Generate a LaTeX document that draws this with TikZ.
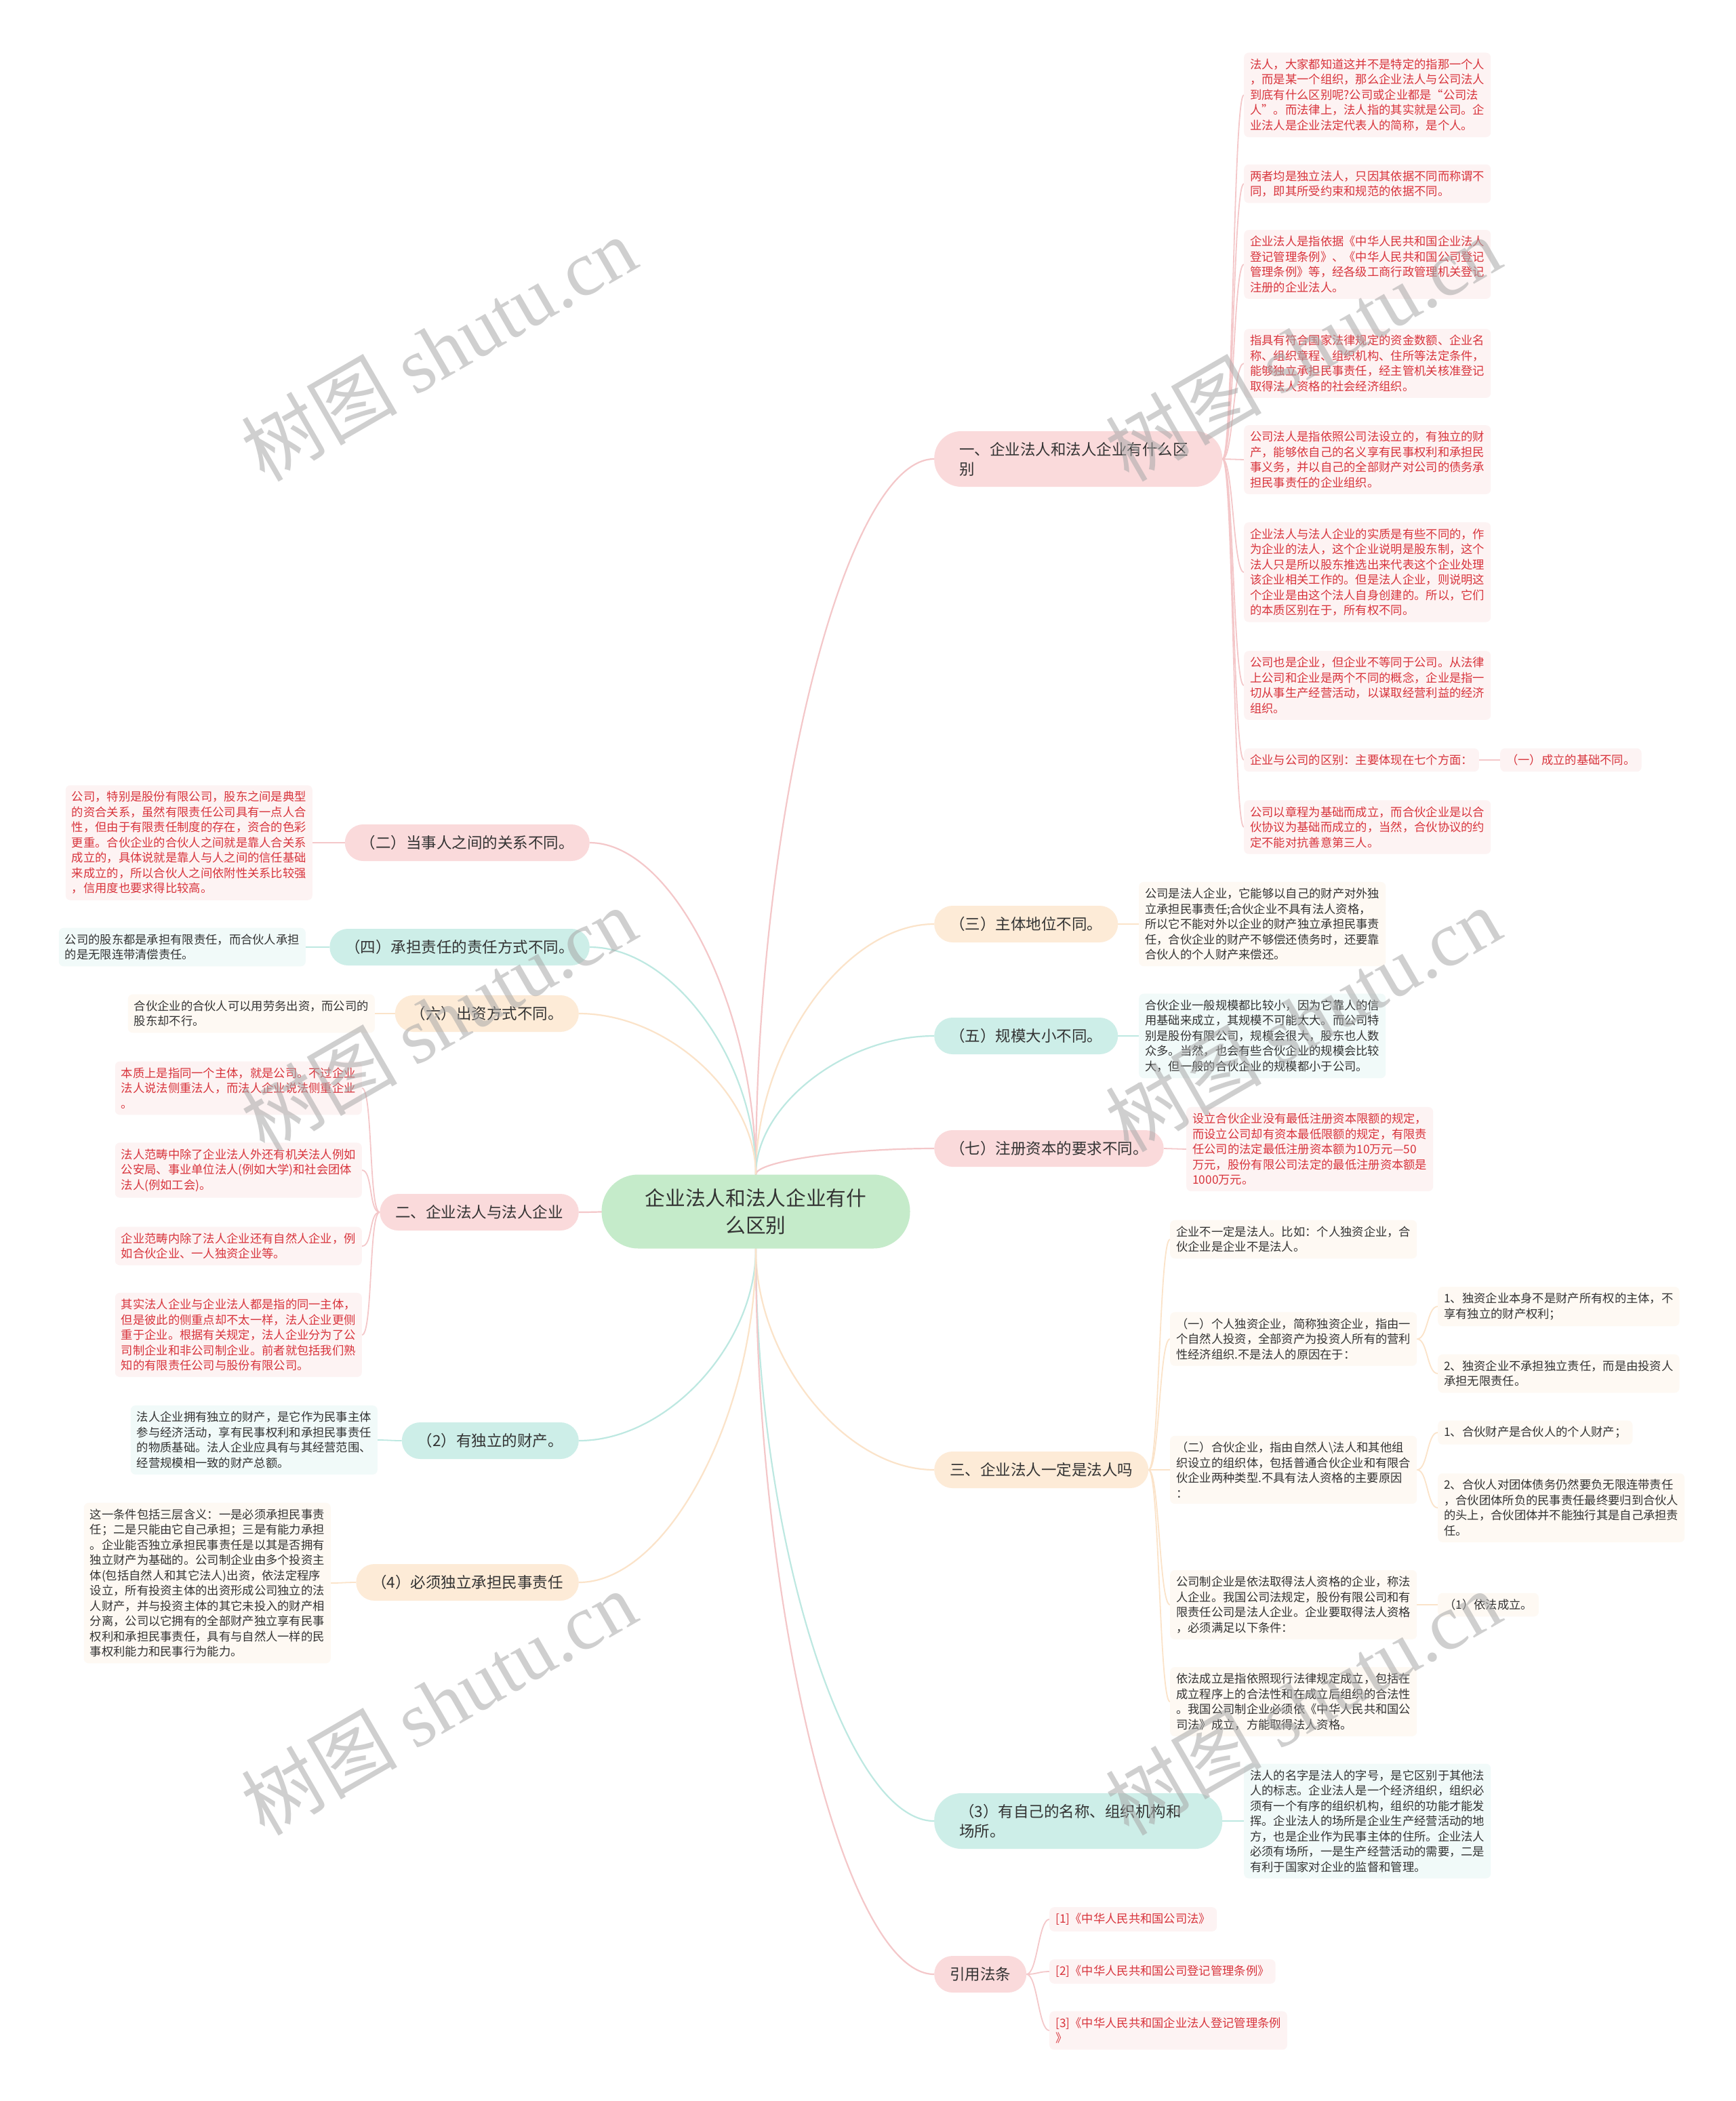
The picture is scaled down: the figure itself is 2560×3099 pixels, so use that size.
\documentclass[tikz,border=0pt]{standalone}
\usepackage{fontspec}
\setmainfont{Noto Sans CJK SC}
\newfontfamily\wmserif{Liberation Serif}
\usetikzlibrary{calc}
\pgfdeclarelayer{bg}
\pgfsetlayers{bg,main}
\definecolor{pinkB}{HTML}{FADADB}
\definecolor{pinkL}{HTML}{FDF3F3}
\definecolor{pinkC}{HTML}{F4C7C9}
\definecolor{tealB}{HTML}{CDEEE8}
\definecolor{tealL}{HTML}{F1FAF9}
\definecolor{tealC}{HTML}{BDE8E1}
\definecolor{peachB}{HTML}{FDEBD7}
\definecolor{peachL}{HTML}{FEF9F3}
\definecolor{peachC}{HTML}{FBE3C9}
\definecolor{rootG}{HTML}{C5EBCA}
\definecolor{redT}{HTML}{D8343C}
\definecolor{darkT}{HTML}{333333}
\definecolor{wmG}{HTML}{A8A8A8}
\tikzset{
  rootnode/.style={fill=rootG, rounded corners=54pt, minimum width=455pt, minimum height=109pt, align=center, font=\fontsize{29.7}{40}\selectfont, text=darkT, inner sep=0pt},
  brnode/.style={rounded corners=27pt, inner xsep=23pt, inner ysep=0pt, minimum height=54pt, font=\fontsize{22.5}{29}\selectfont, text=darkT},
  brtwo/.style={rounded corners=40pt, inner xsep=37pt, inner ysep=0pt, minimum height=82pt, text width=351pt, align=left, font=\fontsize{22.5}{29}\selectfont, text=darkT},
  pinkbr/.style={brnode, fill=pinkB},
  tealbr/.style={brnode, fill=tealB},
  peachbr/.style={brnode, fill=peachB},
  leafnode/.style={rounded corners=7pt, inner xsep=9pt, inner ysep=9pt, align=left, font=\fontsize{17.3}{22.5}\selectfont},
  pinkleaf/.style={leafnode, fill=pinkL, text=redT},
  tealleaf/.style={leafnode, fill=tealL, text=darkT},
  peachleaf/.style={leafnode, fill=peachL, text=darkT},
  pinkln/.style={draw=pinkC, line width=1.8pt},
  tealln/.style={draw=tealC, line width=1.8pt},
  peachln/.style={draw=peachC, line width=1.8pt},
  pinkrl/.style={draw=pinkC, line width=2.2pt},
  tealrl/.style={draw=tealC, line width=2.2pt},
  peachrl/.style={draw=peachC, line width=2.2pt},
  wmark/.style={rotate=30, text=wmG, text opacity=0.55, font=\fontsize{115}{120}\selectfont}
}
\newcommand{\cR}[3]{\draw[#1] (#2.east) .. controls ($(#2.east)+(16,0)$) and ($(#3.west)+(-16,0)$) .. (#3.west);}
\newcommand{\cL}[3]{\draw[#1] (#2.west) .. controls ($(#2.west)+(-16,0)$) and ($(#3.east)+(16,0)$) .. (#3.east);}
\newcommand{\cRoot}[3]{\path ($(#2)!0.5!(#3)$) coordinate (cm); \draw[#1] (#2) .. controls (#2 |- cm) and (cm |- #3) .. (#3);}
\begin{document}
\begin{tikzpicture}[x=1pt,y=-1pt]
\useasboundingbox (0,0) rectangle (2560,3099);
% root
\node[rootnode] (root) at (1115,1787) {企业法人和法人企业有什\\么区别};
% right branches
\node[brtwo, fill=pinkB, anchor=west] (b1) at (1378,677) {一、企业法人和法人企业有什么区\\别};
\node[peachbr, anchor=west] (b2) at (1378,1363) {（三）主体地位不同。};
\node[tealbr, anchor=west] (b3) at (1378,1528) {（五）规模大小不同。};
\node[pinkbr, anchor=west] (b4) at (1378,1694) {（七）注册资本的要求不同。};
\node[peachbr, anchor=west] (b5) at (1378,2168) {三、企业法人一定是法人吗};
\node[brtwo, fill=tealB, anchor=west] (b6) at (1378,2686) {（3）有自己的名称、组织机构和\\场所。};
\node[pinkbr, anchor=west] (b7) at (1378,2912) {引用法条};
% left branches
\node[pinkbr, anchor=east] (b8) at (870,1243) {（二）当事人之间的关系不同。};
\node[tealbr, anchor=east] (b9) at (870,1397) {（四）承担责任的责任方式不同。};
\node[peachbr, anchor=east] (b10) at (854,1495) {（六）出资方式不同。};
\node[pinkbr, anchor=east] (b11) at (854,1788) {二、企业法人与法人企业};
\node[tealbr, anchor=east] (b12) at (854,2125) {（2）有独立的财产。};
\node[peachbr, anchor=east] (b13) at (854,2334) {（4）必须独立承担民事责任};
% leaves of b1
\node[pinkleaf, anchor=west] (l1) at (1835,140) {法人，大家都知道这并不是特定的指那一个人\\，而是某一个组织，那么企业法人与公司法人\\到底有什么区别呢?公司或企业都是“公司法\\人”。而法律上，法人指的其实就是公司。企\\业法人是企业法定代表人的简称，是个人。};
\node[pinkleaf, anchor=west] (l2) at (1835,271) {两者均是独立法人，只因其依据不同而称谓不\\同，即其所受约束和规范的依据不同。};
\node[pinkleaf, anchor=west] (l3) at (1835,390) {企业法人是指依据《中华人民共和国企业法人\\登记管理条例》、《中华人民共和国公司登记\\管理条例》等，经各级工商行政管理机关登记\\注册的企业法人。};
\node[pinkleaf, anchor=west] (l4) at (1835,536) {指具有符合国家法律规定的资金数额、企业名\\称、组织章程、组织机构、住所等法定条件，\\能够独立承担民事责任，经主管机关核准登记\\取得法人资格的社会经济组织。};
\node[pinkleaf, anchor=west] (l5) at (1835,678) {公司法人是指依照公司法设立的，有独立的财\\产，能够依自己的名义享有民事权利和承担民\\事义务，并以自己的全部财产对公司的债务承\\担民事责任的企业组织。};
\node[pinkleaf, anchor=west] (l6) at (1835,844) {企业法人与法人企业的实质是有些不同的，作\\为企业的法人，这个企业说明是股东制，这个\\法人只是所以股东推选出来代表这个企业处理\\该企业相关工作的。但是法人企业，则说明这\\个企业是由这个法人自身创建的。所以，它们\\的本质区别在于，所有权不同。};
\node[pinkleaf, anchor=west] (l7) at (1835,1011) {公司也是企业，但企业不等同于公司。从法律\\上公司和企业是两个不同的概念，企业是指一\\切从事生产经营活动，以谋取经营利益的经济\\组织。};
\node[pinkleaf, anchor=west] (l8) at (1835,1121) {企业与公司的区别：主要体现在七个方面：};
\node[pinkleaf, anchor=west] (l8c) at (2213,1121) {（一）成立的基础不同。};
\node[pinkleaf, anchor=west] (l9) at (1835,1220) {公司以章程为基础而成立，而合伙企业是以合\\伙协议为基础而成立的，当然，合伙协议的约\\定不能对抗善意第三人。};
% single leaves right
\node[peachleaf, anchor=west] (s2) at (1680,1363) {公司是法人企业，它能够以自己的财产对外独\\立承担民事责任;合伙企业不具有法人资格，\\所以它不能对外以企业的财产独立承担民事责\\任，合伙企业的财产不够偿还债务时，还要靠\\合伙人的个人财产来偿还。};
\node[tealleaf, anchor=west] (s3) at (1680,1528) {合伙企业一般规模都比较小，因为它靠人的信\\用基础来成立，其规模不可能太大。而公司特\\别是股份有限公司，规模会很大，股东也人数\\众多。当然，也会有些合伙企业的规模会比较\\大，但一般的合伙企业的规模都小于公司。};
\node[pinkleaf, anchor=west] (s4) at (1750,1695) {设立合伙企业没有最低注册资本限额的规定，\\而设立公司却有资本最低限额的规定，有限责\\任公司的法定最低注册资本额为10万元—50\\万元，股份有限公司法定的最低注册资本额是\\1000万元。};
% leaves of b5
\node[peachleaf, anchor=west] (t1) at (1726,1828) {企业不一定是法人。比如：个人独资企业，合\\伙企业是企业不是法人。};
\node[peachleaf, anchor=west] (t2) at (1726,1975) {（一）个人独资企业，简称独资企业，指由一\\个自然人投资，全部资产为投资人所有的营利\\性经济组织.不是法人的原因在于：};
\node[peachleaf, anchor=west] (t3) at (1726,2168) {（二）合伙企业，指由自然人\textbackslash{}法人和其他组\\织设立的组织体，包括普通合伙企业和有限合\\伙企业两种类型.不具有法人资格的主要原因\\：};
\node[peachleaf, anchor=west] (t4) at (1726,2367) {公司制企业是依法取得法人资格的企业，称法\\人企业。我国公司法规定，股份有限公司和有\\限责任公司是法人企业。企业要取得法人资格\\，必须满足以下条件：};
\node[peachleaf, anchor=west] (t5) at (1726,2510) {依法成立是指依照现行法律规定成立，包括在\\成立程序上的合法性和在成立后组织的合法性\\。我国公司制企业必须依《中华人民共和国公\\司法》成立，方能取得法人资格。};
\node[peachleaf, anchor=west] (u1) at (2121,1927) {1、独资企业本身不是财产所有权的主体，不\\享有独立的财产权利；};
\node[peachleaf, anchor=west] (u2) at (2121,2026) {2、独资企业不承担独立责任，而是由投资人\\承担无限责任。};
\node[peachleaf, anchor=west] (u3) at (2121,2113) {1、合伙财产是合伙人的个人财产；};
\node[peachleaf, anchor=west] (u4) at (2121,2224) {2、合伙人对团体债务仍然要负无限连带责任\\，合伙团体所负的民事责任最终要归到合伙人\\的头上，合伙团体并不能独行其是自己承担责\\任。};
\node[peachleaf, anchor=west] (u5) at (2121,2367) {（1）依法成立。};
% leaf of b6
\node[tealleaf, anchor=west] (s6) at (1835,2686) {法人的名字是法人的字号，是它区别于其他法\\人的标志。企业法人是一个经济组织，组织必\\须有一个有序的组织机构，组织的功能才能发\\挥。企业法人的场所是企业生产经营活动的地\\方，也是企业作为民事主体的住所。企业法人\\必须有场所，一是生产经营活动的需要，二是\\有利于国家对企业的监督和管理。};
% leaves of b7
\node[pinkleaf, anchor=west] (r1) at (1548,2831) {[1]《中华人民共和国公司法》};
\node[pinkleaf, anchor=west] (r2) at (1548,2908) {[2]《中华人民共和国公司登记管理条例》};
\node[pinkleaf, anchor=west] (r3) at (1548,2995) {[3]《中华人民共和国企业法人登记管理条例\\》};
% left leaves
\node[pinkleaf, anchor=east] (k8) at (461,1243) {公司，特别是股份有限公司，股东之间是典型\\的资合关系，虽然有限责任公司具有一点人合\\性，但由于有限责任制度的存在，资合的色彩\\更重。合伙企业的合伙人之间就是靠人合关系\\成立的，具体说就是靠人与人之间的信任基础\\来成立的，所以合伙人之间依附性关系比较强\\，信用度也要求得比较高。};
\node[tealleaf, anchor=east] (k9) at (451,1397) {公司的股东都是承担有限责任，而合伙人承担\\的是无限连带清偿责任。};
\node[peachleaf, anchor=east] (k10) at (553,1495) {合伙企业的合伙人可以用劳务出资，而公司的\\股东却不行。};
\node[pinkleaf, anchor=east] (e1) at (534,1605) {本质上是指同一个主体，就是公司。不过企业\\法人说法侧重法人，而法人企业说法侧重企业\\。};
\node[pinkleaf, anchor=east] (e2) at (534,1726) {法人范畴中除了企业法人外还有机关法人例如\\公安局、事业单位法人(例如大学)和社会团体\\法人(例如工会)。};
\node[pinkleaf, anchor=east] (e3) at (534,1838) {企业范畴内除了法人企业还有自然人企业，例\\如合伙企业、一人独资企业等。};
\node[pinkleaf, anchor=east] (e4) at (534,1969) {其实法人企业与企业法人都是指的同一主体，\\但是彼此的侧重点却不太一样，法人企业更侧\\重于企业。根据有关规定，法人企业分为了公\\司制企业和非公司制企业。前者就包括我们熟\\知的有限责任公司与股份有限公司。};
\node[tealleaf, anchor=east] (k12) at (557,2124) {法人企业拥有独立的财产，是它作为民事主体\\参与经济活动，享有民事权利和承担民事责任\\的物质基础。法人企业应具有与其经营范围、\\经营规模相一致的财产总额。};
\node[peachleaf, anchor=east] (k13) at (488,2335) {这一条件包括三层含义：一是必须承担民事责\\任；二是只能由它自己承担；三是有能力承担\\。企业能否独立承担民事责任是以其是否拥有\\独立财产为基础的。公司制企业由多个投资主\\体(包括自然人和其它法人)出资，依法定程序\\设立，所有投资主体的出资形成公司独立的法\\人财产，并与投资主体的其它未投入的财产相\\分离，公司以它拥有的全部财产独立享有民事\\权利和承担民事责任，具有与自然人一样的民\\事权利能力和民事行为能力。};
% connectors
\begin{pgfonlayer}{bg}
\fill[white] (0,0) rectangle (2560,3099);
\cRoot{pinkrl}{root.north}{b1.west}
\cRoot{peachrl}{root.north}{b2.west}
\cRoot{tealrl}{root.north}{b3.west}
\cRoot{pinkrl}{root.north}{b4.west}
\cRoot{peachrl}{root.south}{b5.west}
\cRoot{tealrl}{root.south}{b6.west}
\cRoot{pinkrl}{root.south}{b7.west}
\cRoot{pinkrl}{root.north}{b8.east}
\cRoot{tealrl}{root.north}{b9.east}
\cRoot{peachrl}{root.north}{b10.east}
\cRoot{pinkrl}{root.north}{b11.east}
\cRoot{tealrl}{root.south}{b12.east}
\cRoot{peachrl}{root.south}{b13.east}
\cR{pinkln}{b1}{l1}
\cR{pinkln}{b1}{l2}
\cR{pinkln}{b1}{l3}
\cR{pinkln}{b1}{l4}
\cR{pinkln}{b1}{l5}
\cR{pinkln}{b1}{l6}
\cR{pinkln}{b1}{l7}
\cR{pinkln}{b1}{l8}
\cR{pinkln}{b1}{l9}
\cR{pinkln}{l8}{l8c}
\cR{peachln}{b2}{s2}
\cR{tealln}{b3}{s3}
\cR{pinkln}{b4}{s4}
\cR{peachln}{b5}{t1}
\cR{peachln}{b5}{t2}
\cR{peachln}{b5}{t3}
\cR{peachln}{b5}{t4}
\cR{peachln}{b5}{t5}
\cR{peachln}{t2}{u1}
\cR{peachln}{t2}{u2}
\cR{peachln}{t3}{u3}
\cR{peachln}{t3}{u4}
\cR{peachln}{t4}{u5}
\cR{tealln}{b6}{s6}
\cR{pinkln}{b7}{r1}
\cR{pinkln}{b7}{r2}
\cR{pinkln}{b7}{r3}
\cL{pinkln}{b8}{k8}
\cL{tealln}{b9}{k9}
\cL{peachln}{b10}{k10}
\cL{pinkln}{b11}{e1}
\cL{pinkln}{b11}{e2}
\cL{pinkln}{b11}{e3}
\cL{pinkln}{b11}{e4}
\cL{tealln}{b12}{k12}
\cL{peachln}{b13}{k13}
\end{pgfonlayer}
% watermarks
\node[wmark] (w1) at (647,514) {树图 {\wmserif shutu.cn}};
\node[wmark] (w2) at (1922,514) {树图 {\wmserif shutu.cn}};
\node[wmark] (w3) at (647,1503) {树图 {\wmserif shutu.cn}};
\node[wmark] (w4) at (1922,1503) {树图 {\wmserif shutu.cn}};
\node[wmark] (w5) at (647,2511) {树图 {\wmserif shutu.cn}};
\node[wmark] (w6) at (1922,2511) {树图 {\wmserif shutu.cn}};
\end{tikzpicture}
\end{document}
